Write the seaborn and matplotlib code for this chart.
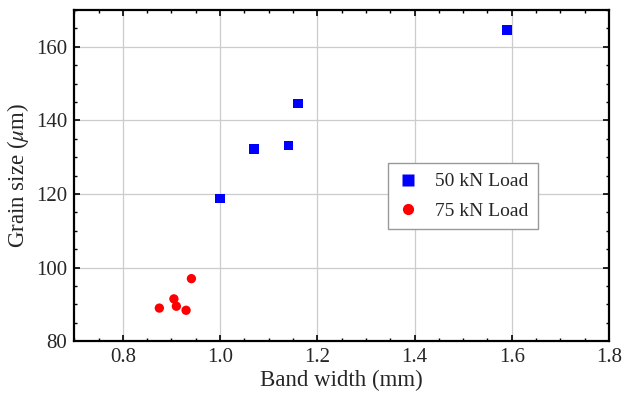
import pandas as pd
import seaborn as sns
import matplotlib.pyplot as plt
from matplotlib.ticker import MultipleLocator

# band width (mm) and grain size (um) for each load
width_50 = [1.00, 1.07, 1.14, 1.16, 1.59]
grain_50 = [118.7, 132.2, 133.1, 144.6, 164.6]

width_75 = [0.875, 0.905, 0.910, 0.930, 0.941]
grain_75 = [89.0, 91.5, 89.5, 88.4, 97.0]

loads = ["50 kN Load", "75 kN Load"]

df = pd.DataFrame({
    "width": width_50 + width_75,
    "grain": grain_50 + grain_75,
    "load": [loads[0]] * len(width_50) + [loads[1]] * len(width_75),
})

sns.set_style("ticks")
plt.rcParams["font.family"] = ["Liberation Serif", "DejaVu Serif"]
plt.rcParams["mathtext.fontset"] = "stix"

fig = plt.figure(figsize=(6.24, 4.0), dpi=100)
ax = fig.add_axes([0.119, 0.147, 0.857, 0.828])

sns.scatterplot(data=df, x="width", y="grain", hue="load", style="load",
                palette={loads[0]: "#0000ff", loads[1]: "#ff0000"},
                markers={loads[0]: "s", loads[1]: "o"},
                s=45, edgecolor="none", ax=ax, zorder=3)

ax.set_xlim(0.7, 1.8)
ax.set_ylim(80, 170)
ax.xaxis.set_major_locator(MultipleLocator(0.2))
ax.xaxis.set_minor_locator(MultipleLocator(0.05))
ax.yaxis.set_major_locator(MultipleLocator(20))
ax.yaxis.set_minor_locator(MultipleLocator(5))
ax.set_xticks([0.8, 1.0, 1.2, 1.4, 1.6, 1.8])
ax.set_xticklabels(["0.8", "1.0", "1.2", "1.4", "1.6", "1.8"])

ax.grid(True, which="major", color="#cccccc", linewidth=0.9, zorder=0)
ax.tick_params(which="both", direction="in", top=True, right=True,
               labelsize=15, color="black")
ax.tick_params(which="major", length=4.5, width=1.2, pad=5)
ax.tick_params(which="minor", length=2.5, width=1.0)
for sp in ax.spines.values():
    sp.set_linewidth(1.6)
    sp.set_color("black")

ax.set_xlabel("Band width (mm)", fontsize=16.5, labelpad=2)
ax.set_ylabel("Grain size ($\\mu$m)", fontsize=16.5, labelpad=4)

ax.legend(title=None, loc="upper left", bbox_to_anchor=(0.587, 0.538),
          borderaxespad=0, fontsize=14, frameon=True, fancybox=False,
          edgecolor="#999999", framealpha=1, handlelength=1.0,
          handletextpad=0.9, borderpad=0.5, labelspacing=0.6,
          markerscale=1.2)

fig.savefig("out.png", dpi=100)
